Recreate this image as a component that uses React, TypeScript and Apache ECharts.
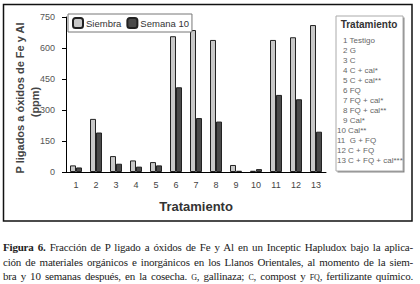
import React, { useEffect, useRef } from 'react';
import * as echarts from 'echarts';

const categories = ['1', '2', '3', '4', '5', '6', '7', '8', '9', '10', '11', '12', '13'];
const siembra = [32, 257, 77, 56, 48, 657, 687, 639, 34, 6, 639, 652, 711];
const semana10 = [22, 191, 40, 26, 32, 410, 261, 244, 6, 14, 373, 352, 195];
const seriesNames = ['Siembra', 'Semana 10'];
const yMin = 0;
const yMax = 750;
const yInterval = 150;
const treatmentTitle = 'Tratamiento';
const treatmentNames = [
  'Testigo', 'G', 'C', 'C + cal*', 'C + cal**', 'FQ', 'FQ + cal*', 'FQ + cal**',
  'Cal*', 'Cal**', ' G + FQ', 'C + FQ', 'C + FQ + cal***',
];
const yAxisTitle = 'P ligados a óxidos de Fe y Al';
const yAxisUnit = '(ppm)';
const xAxisTitle = 'Tratamiento';

const SANS = '"Liberation Sans", Arial, sans-serif';
const SERIF = "'Liberation Serif', 'DejaVu Serif', serif";

export default function App() {
  const ref = useRef<HTMLDivElement>(null);
  useEffect(() => {
    const chart = echarts.init(ref.current!, null, { renderer: 'svg' });
    const legendItems = treatmentNames.map((name, i) => ({
      type: 'text',
      left: i >= 9 ? 337 : 343,
      top: 36 + i * 10,
      style: {
        text: `${i + 1} ${name}`,
        font: `8px ${SANS}`,
        fill: '#666',
      },
    }));
    chart.setOption({
      animation: false,
      grid: { left: 66, right: 94, top: 17, bottom: 112 },
      legend: {
        left: 68,
        top: 14,
        padding: [3, 3, 3, 4],
        itemWidth: 10,
        itemHeight: 10,
        itemGap: 5,
        borderColor: '#777',
        borderWidth: 1,
        backgroundColor: '#fff',
        textStyle: { fontFamily: SANS, fontSize: 9.5, color: '#333', padding: [0, 0, 0, -2] },
        data: seriesNames,
      },
      xAxis: {
        type: 'category',
        data: categories,
        axisLine: { lineStyle: { color: '#000', width: 1 } },
        axisTick: { length: 4, lineStyle: { color: '#000' } },
        axisLabel: { fontFamily: SANS, fontSize: 9, color: '#444', margin: 8 },
        name: xAxisTitle,
        nameLocation: 'middle',
        nameGap: 28,
        nameTextStyle: { fontFamily: SANS, fontSize: 13, fontWeight: 'bold', color: '#333' },
      },
      yAxis: {
        type: 'value',
        min: yMin,
        max: yMax,
        interval: yInterval,
        axisLine: { show: true, lineStyle: { color: '#000', width: 1 } },
        axisTick: { show: true, length: 4, lineStyle: { color: '#000' } },
        axisLabel: { fontFamily: SANS, fontSize: 9, color: '#555', margin: 11 },
        splitLine: { show: false },
      },
      series: [
        {
          name: seriesNames[0],
          type: 'bar',
          data: siembra,
          barWidth: 6,
          barGap: '0%',
          itemStyle: { color: '#c8c8c8', borderColor: '#222', borderWidth: 1 },
        },
        {
          name: seriesNames[1],
          type: 'bar',
          data: semana10,
          barWidth: 6,
          barGap: '0%',
          itemStyle: { color: '#4a4a4a', borderColor: '#222', borderWidth: 1 },
        },
      ],
      graphic: [
        {
          type: 'rect',
          shape: { x: 3.5, y: 4.5, width: 408.5, height: 216.5 },
          style: { fill: 'none', stroke: '#111', lineWidth: 1.5 },
          z: 0,
        },
        {
          type: 'rect',
          shape: { x: 337.5, y: 17.5, width: 67, height: 155 },
          style: { fill: '#888', stroke: 'none' },
        },
        {
          type: 'rect',
          shape: { x: 336, y: 16, width: 67, height: 155 },
          style: { fill: '#fff', stroke: '#aaa', lineWidth: 1 },
        },
        {
          type: 'text',
          x: 369,
          y: 24,
          style: {
            text: treatmentTitle,
            font: `bold 10px ${SANS}`,
            fill: '#333',
            align: 'center',
            verticalAlign: 'middle',
          },
        },
        ...legendItems,
        {
          type: 'text',
          x: 20,
          y: 98,
          rotation: Math.PI / 2,
          style: {
            text: yAxisTitle,
            font: `bold 11px ${SANS}`,
            fill: '#444',
            align: 'center',
            verticalAlign: 'middle',
          },
        },
        {
          type: 'text',
          x: 35,
          y: 102,
          rotation: Math.PI / 2,
          style: {
            text: yAxisUnit,
            font: `bold 11px ${SANS}`,
            fill: '#444',
            align: 'center',
            verticalAlign: 'middle',
          },
        },
      ],
    });
    return () => chart.dispose();
  }, []);

  const lineStyle: React.CSSProperties = {
    textAlign: 'justify',
    textAlignLast: 'justify',
    whiteSpace: 'nowrap',
    height: 14.5,
    lineHeight: '14.5px',
  };
  const sc: React.CSSProperties = { fontVariant: 'small-caps' };

  return (
    <div style={{ position: 'absolute', left: 0, top: 0, width: 420, height: 284, background: '#fff' }}>
      <div ref={ref} style={{ position: 'absolute', left: 0, top: 0, width: 420, height: 284 }} />
      <div
        style={{
          position: 'absolute',
          left: 3,
          top: 240,
          width: 410,
          fontFamily: SERIF,
          fontSize: 11,
          letterSpacing: '-0.2px',
          color: '#222',
        }}
      >
        <div style={lineStyle}>
          <b>Figura 6.</b> Fracción de P ligado a óxidos de Fe y Al en un Inceptic Hapludox bajo la aplica-
        </div>
        <div style={lineStyle}>
          ción de materiales orgánicos e inorgánicos en los Llanos Orientales, al momento de la siem-
        </div>
        <div style={lineStyle}>
          bra y 10 semanas después, en la cosecha. <span style={sc}>g</span>, gallinaza; <span style={sc}>c</span>, compost y <span style={sc}>fq</span>, fertilizante químico.
        </div>
      </div>
    </div>
  );
}
